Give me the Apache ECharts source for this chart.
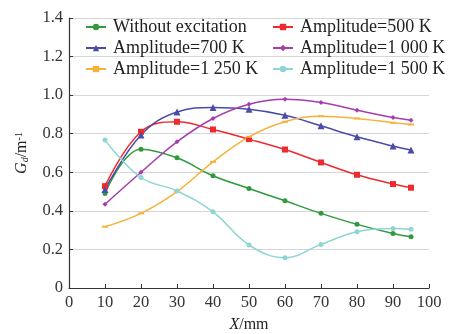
<!DOCTYPE html>
<html>
<head>
<meta charset="utf-8">
<script src="https://cdn.jsdelivr.net/npm/echarts@6/dist/echarts.min.js"></script>
<style>
  html, body { margin: 0; padding: 0; background: #fff; }
  #chart { width: 450px; height: 334px; }
</style>
</head>
<body>
<div id="chart"></div>
<script>
// positions along X (mm)
const xPositions = [10, 20, 30, 40, 50, 60, 70, 80, 90, 95];

const seriesNames = [
  "Without excitation",
  "Amplitude=500 K",
  "Amplitude=700 K",
  "Amplitude=1 000 K",
  "Amplitude=1 250 K",
  "Amplitude=1 500 K"
];

// Gd values
const withoutExcitation = [0.49, 0.72, 0.675, 0.582, 0.516, 0.452, 0.387, 0.33, 0.283, 0.266];
const amp500 = [0.528, 0.81, 0.862, 0.822, 0.772, 0.718, 0.651, 0.587, 0.539, 0.52];
const amp700 = [0.511, 0.793, 0.913, 0.936, 0.927, 0.896, 0.841, 0.784, 0.736, 0.715];
const amp1000 = [0.434, 0.6, 0.758, 0.879, 0.953, 0.979, 0.962, 0.922, 0.884, 0.87];
const amp1250 = [0.318, 0.387, 0.5, 0.654, 0.784, 0.862, 0.891, 0.879, 0.857, 0.848];
const amp1500 = [0.767, 0.573, 0.503, 0.395, 0.223, 0.157, 0.226, 0.292, 0.309, 0.304];

const seriesValues = [withoutExcitation, amp500, amp700, amp1000, amp1250, amp1500];
const colors = ["#2f9b3e", "#ee2a2e", "#4b4ba8", "#a53db0", "#f6b23a", "#8ed5d3"];
const symbols = ["circle", "rect", "triangle", "diamond", "rect", "circle"];
const symbolSizes = [5, 6, 7, 5, [6, 2], 5];

const font = "'Liberation Serif', 'DejaVu Serif', serif";

const chart = echarts.init(document.getElementById("chart"));

const series = seriesNames.map((name, i) => ({
  name,
  type: "line",
  smooth: 0.4,
  data: xPositions.map((x, j) => [x, seriesValues[i][j]]),
  symbol: symbols[i],
  symbolSize: symbolSizes[i],
  showSymbol: true,
  lineStyle: { width: 1.5, color: colors[i] },
  itemStyle: { color: colors[i] },
  emphasis: { disabled: true }
}));

const legendBase = {
  orient: "vertical",
  top: 18,
  padding: 0,
  itemWidth: 20,
  itemHeight: 8,
  itemGap: 3,
  textStyle: { fontFamily: font, fontSize: 18, lineHeight: 18, color: "#222", padding: [0, 0, 0, 2] },
  selectedMode: false
};

const option = {
  animation: false,
  textStyle: { fontFamily: font },
  legend: [
    Object.assign({}, legendBase, { left: 85, data: [seriesNames[0], seriesNames[2], seriesNames[4]] }),
    Object.assign({}, legendBase, { left: 272, data: [seriesNames[1], seriesNames[3], seriesNames[5]] })
  ],
  grid: { left: 69, right: 21, top: 18, bottom: 46, outerBoundsMode: "none" },
  xAxis: {
    type: "value",
    min: 0,
    max: 100,
    interval: 10,
    name: "{i|X}/mm",
    nameLocation: "middle",
    nameGap: 29,
    nameTextStyle: {
      fontFamily: font, fontSize: 16, color: "#222",
      rich: { i: { fontFamily: font, fontSize: 16, fontStyle: "italic", color: "#222" } }
    },
    axisLine: { lineStyle: { color: "#333", width: 1.2 } },
    axisTick: { inside: true, length: 4, lineStyle: { color: "#333" } },
    axisLabel: { fontFamily: font, fontSize: 16.5, color: "#333", margin: 6 },
    splitLine: { show: false }
  },
  yAxis: {
    type: "value",
    min: 0,
    max: 1.4,
    interval: 0.2,
    name: "{i|G}{s|d}/m{p|-1}",
    nameLocation: "middle",
    nameRotate: 90,
    nameGap: 39,
    nameTextStyle: {
      fontFamily: font, fontSize: 16, color: "#222",
      rich: {
        i: { fontFamily: font, fontSize: 16, fontStyle: "italic", color: "#222" },
        s: { fontFamily: font, fontSize: 10, fontStyle: "italic", color: "#222", verticalAlign: "bottom", padding: [6, 0, 0, 0] },
        p: { fontFamily: font, fontSize: 10, color: "#222", verticalAlign: "top", padding: [0, 0, 6, 0] }
      }
    },
    axisLine: { show: true, lineStyle: { color: "#333", width: 1.2 } },
    axisTick: { show: true, inside: true, length: 4, lineStyle: { color: "#333" } },
    axisLabel: {
      fontFamily: font, fontSize: 16.5, color: "#333", margin: 6,
      formatter: v => (v === 0 ? "0" : v.toFixed(1))
    },
    splitLine: { show: true, lineStyle: { color: "#d6d6d6", width: 1 } }
  },
  series
};

chart.setOption(option);
</script>
</body>
</html>
